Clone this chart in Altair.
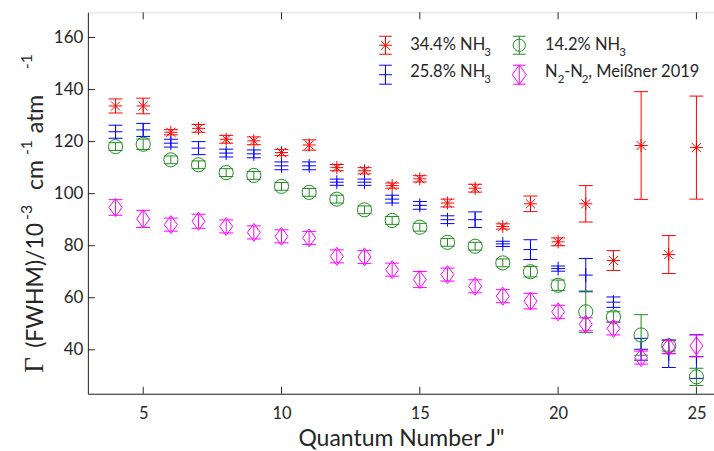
import altair as alt
import pandas as pd

# ---------------- data ----------------
J = list(range(4, 26))

nh3_344 = [133.7, 133.7, 123.6, 125.1, 120.9, 120.3, 115.8, 118.7, 110.0, 108.8, 103.1,
           105.7, 96.4, 102.1, 87.4, 96.1, 81.5, 96.1, 74.3, 118.5, 76.6, 117.7]
nh3_344_err = [2.7, 3.0, 1.0, 1.5, 1.5, 1.5, 1.2, 2.0, 1.2, 1.2, 1.0,
               1.2, 1.5, 1.5, 1.0, 3.0, 1.5, 7.0, 3.8, 20.7, 7.3, 19.8]

nh3_258 = [123.8, 124.5, 119.4, 117.5, 115.6, 115.3, 110.7, 110.7, 104.4, 104.4, 97.9,
           95.5, 90.0, 90.0, 80.7, 78.5, 71.2, 68.7, 58.3, 40.2, 38.5, 37.4]
nh3_258_err = [2.5, 2.5, 1.5, 2.5, 1.5, 1.5, 1.5, 1.5, 1.2, 1.2, 1.5,
               1.5, 1.5, 3.0, 1.0, 3.8, 1.0, 6.4, 2.0, 4.2, 5.3, 8.4]

nh3_142 = [118.1, 119.0, 113.0, 111.1, 108.1, 107.0, 102.8, 100.5, 97.9, 93.8, 89.7,
           87.1, 81.3, 79.8, 73.4, 70.0, 64.8, 54.6, 52.6, 45.7, 41.5, 29.6]
nh3_142_err = [1.5, 2.0, 1.5, 1.5, 1.5, 1.5, 1.5, 1.5, 1.5, 1.5, 1.5,
               1.5, 1.5, 1.5, 1.5, 2.0, 2.0, 8.0, 2.0, 7.8, 2.0, 3.3]

n2n2 = [94.7, 90.3, 88.1, 89.4, 87.4, 85.1, 83.6, 83.0, 75.9, 75.7, 70.8,
        67.0, 68.9, 64.4, 60.6, 58.7, 54.6, 49.8, 48.2, 37.0, 41.1, 41.5]
n2n2_err = [3.0, 3.3, 2.5, 2.7, 2.5, 2.5, 2.5, 2.5, 2.5, 2.5, 2.5,
            3.1, 2.5, 2.5, 2.5, 3.0, 2.5, 2.5, 2.5, 2.5, 2.5, 4.2]

x_ticks = [5, 10, 15, 20, 25]
y_ticks = [40, 60, 80, 100, 120, 140, 160]

# ---------------- styling ----------------
W, H = 627, 382
FONT = "Lato"
TXT = "#262626"
ASTERISK = "M-1,0L1,0M0,-1L0,1M-0.7,-0.7L0.7,0.7M-0.7,0.7L0.7,-0.7"
PLUS = "M-1,0L1,0M0,-1L0,1"
DIAMOND = "M0,-1L0.72,0L0,1L-0.72,0Z"
CAP = "M-1,0L1,0"

xs = alt.Scale(domain=[3, 3 + W / 27.7], nice=False, zero=False)
ys = alt.Scale(domain=[23.1, 169.7], nice=False, zero=False)

xaxis = alt.Axis(values=x_ticks, ticks=False, grid=False, title=None, labelFont=FONT,
                 labelFontSize=16.5, labelColor=TXT, labelPadding=12, domainColor=TXT,
                 labelFlush=False)
yaxis = alt.Axis(values=y_ticks, ticks=False, grid=False, title=None, labelFont=FONT,
                 labelFontSize=17, labelColor=TXT, labelPadding=5, domainColor=TXT)

series = [
    (nh3_344, nh3_344_err, "#ff0000", ASTERISK, 169),
    (nh3_258, nh3_258_err, "#0000ff", PLUS, 196),
    (nh3_142, nh3_142_err, "#1e8c1e", "circle", 200),
    (n2n2, n2n2_err, "#ff00ff", DIAMOND, 324),
]

layers = []
for vals, errs, col, shape, size in series:
    df = pd.DataFrame({"J": J, "v": vals,
                       "lo": [a - b for a, b in zip(vals, errs)],
                       "hi": [a + b for a, b in zip(vals, errs)]})
    base = alt.Chart(df)
    X = alt.X("J:Q", scale=xs, axis=xaxis)
    layers.append(base.mark_rule(color=col, strokeWidth=1).encode(
        x=X, y=alt.Y("lo:Q", scale=ys, axis=yaxis), y2="hi:Q"))
    for f in ["lo", "hi"]:
        layers.append(base.mark_point(shape=CAP, size=196, color=col, filled=False,
                                      strokeWidth=1, opacity=1).encode(
            x=X, y=alt.Y(f + ":Q", scale=ys, axis=yaxis)))
    layers.append(base.mark_point(shape=shape, size=size, color=col, filled=False,
                                  strokeWidth=1, opacity=1).encode(
        x=X, y=alt.Y("v:Q", scale=ys, axis=yaxis)))

# inward tick marks
xt = alt.Chart(pd.DataFrame({"t": x_ticks}))
layers.append(xt.mark_rule(color=TXT, strokeWidth=1).encode(
    x=alt.X("t:Q", scale=xs, axis=xaxis), y=alt.value(H), y2=alt.value(H - 7)))
layers.append(xt.mark_rule(color=TXT, strokeWidth=1).encode(
    x=alt.X("t:Q", scale=xs, axis=xaxis), y=alt.value(0), y2=alt.value(7)))
yt = alt.Chart(pd.DataFrame({"t": y_ticks}))
layers.append(yt.mark_rule(color=TXT, strokeWidth=1).encode(
    y=alt.Y("t:Q", scale=ys, axis=yaxis), x=alt.value(0), x2=alt.value(7)))

one = pd.DataFrame({"k": [0]})


def txt(s, x, y, size, font=FONT, angle=0, align="left"):
    return alt.Chart(one).mark_text(text=s, align=align, baseline="alphabetic",
                                    fontSize=size, font=font, angle=angle,
                                    color=TXT).encode(x=alt.value(x), y=alt.value(y))


# axis titles
layers.append(txt("Quantum Number J\"", 314, 434, 23, align="center"))
layers.append(txt("\u0393", -45, 361, 27, font="Liberation Serif", angle=270))
layers.append(txt("(FWHM)/10", -45, 336, 23, angle=270))
layers.append(txt("-3", -56, 208, 16, angle=270))
layers.append(txt("cm", -45, 178, 23, angle=270))
layers.append(txt("-1", -56, 143, 16, angle=270))
layers.append(txt("atm", -45, 121, 23, angle=270))
layers.append(txt("-1", -56, 57, 16, angle=270))

# legend
leg = [
    (298, 33, 9, "#ff0000", ASTERISK, 169),
    (298, 62.5, 9.5, "#0000ff", PLUS, 169),
    (432, 33, 9, "#1e8c1e", "circle", 150),
    (432, 62.5, 9.5, "#ff00ff", DIAMOND, 380),
]
for lx, ly, le, col, shape, size in leg:
    layers.append(alt.Chart(one).mark_rule(color=col, strokeWidth=1).encode(
        x=alt.value(lx), y=alt.value(ly - le), y2=alt.value(ly + le)))
    for cy in (ly - le, ly + le):
        layers.append(alt.Chart(one).mark_point(shape=CAP, size=161, color=col,
                                                filled=False, strokeWidth=1, opacity=1).encode(
            x=alt.value(lx), y=alt.value(cy)))
    layers.append(alt.Chart(one).mark_point(shape=shape, size=size, color=col,
                                            filled=False, strokeWidth=1, opacity=1).encode(
        x=alt.value(lx), y=alt.value(ly)))

LS = 16.5
layers += [
    txt("34.4% NH", 322.7, 37.8, LS), txt("3", 397, 43.5, 11.5),
    txt("25.8% NH", 322.7, 65.2, LS), txt("3", 397, 71, 11.5),
    txt("14.2% NH", 457.7, 37.8, LS), txt("3", 532, 43.5, 11.5),
    txt("N", 457.7, 65.2, LS), txt("2", 470.5, 71, 11.5),
    txt("-N", 477, 65.2, LS), txt("2", 494.5, 71, 11.5),
    txt(", Mei\u00dfner 2019", 501, 65.2, LS),
]

chart = alt.layer(*layers).properties(
    width=W, height=H,
    autosize=alt.AutoSizeParams(type="none"),
    padding={"left": 88, "top": 12, "right": 0, "bottom": 57},
).configure_view(stroke="#808080", strokeWidth=1).configure(background="white")

chart.save("out.html", embed_options={"renderer": "svg", "actions": False})
